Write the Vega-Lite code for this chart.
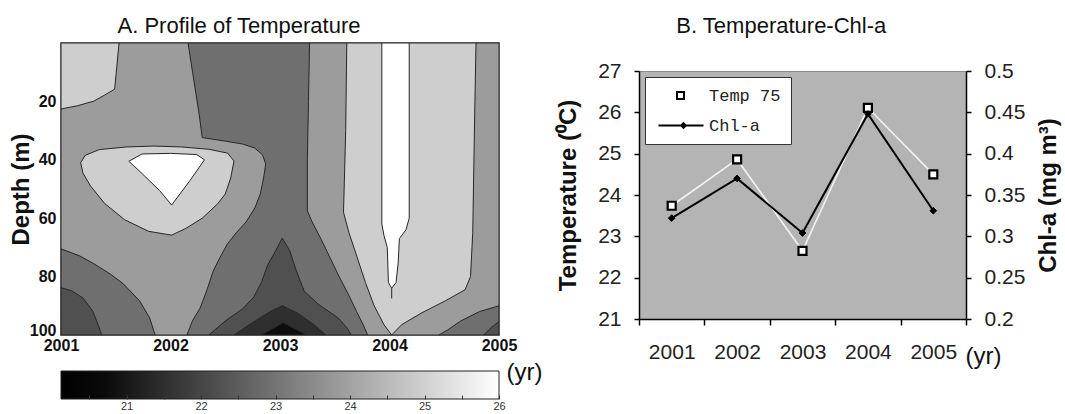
{
  "$schema": "https://vega.github.io/schema/vega-lite/v6.json",
  "background": "white",
  "padding": {"left": 8, "top": 14, "right": 5, "bottom": 0},
  "config": {"font": "Liberation Sans", "view": {"stroke": null}, "title": {"color": "#111", "fontWeight": "normal", "fontSize": 22}},
  "resolve": {"scale": {"shape": "independent"}, "legend": {"shape": "independent"}},
  "datasets": {
    "contours": [
      {"p":"P0","t":23,"i":0,"yr":2001,"d":0},{"p":"P0","t":23,"i":1,"yr":2005,"d":0},{"p":"P0","t":23,"i":2,"yr":2005,"d":100},{"p":"P0","t":23,"i":3,"yr":2001,"d":100},{"p":"P0","t":23,"i":4,"yr":2001,"d":0},

      {"p":"P1","t":24,"i":0,"yr":2001,"d":0},{"p":"P1","t":24,"i":1,"yr":2002.16,"d":0},{"p":"P1","t":24,"i":2,"yr":2002.21,"d":12},{"p":"P1","t":24,"i":3,"yr":2002.26,"d":24},{"p":"P1","t":24,"i":4,"yr":2002.29,"d":32.4},{"p":"P1","t":24,"i":5,"yr":2002.5,"d":33.6},{"p":"P1","t":24,"i":6,"yr":2002.66,"d":34.6},{"p":"P1","t":24,"i":7,"yr":2002.77,"d":36},{"p":"P1","t":24,"i":8,"yr":2002.84,"d":38.3},{"p":"P1","t":24,"i":9,"yr":2002.87,"d":41.4},{"p":"P1","t":24,"i":10,"yr":2002.85,"d":46.2},{"p":"P1","t":24,"i":11,"yr":2002.82,"d":51.7},{"p":"P1","t":24,"i":12,"yr":2002.77,"d":56.5},{"p":"P1","t":24,"i":13,"yr":2002.69,"d":61.3},{"p":"P1","t":24,"i":14,"yr":2002.6,"d":65},{"p":"P1","t":24,"i":15,"yr":2002.52,"d":68.8},{"p":"P1","t":24,"i":16,"yr":2002.45,"d":73.6},{"p":"P1","t":24,"i":17,"yr":2002.39,"d":78.1},{"p":"P1","t":24,"i":18,"yr":2002.33,"d":84.9},{"p":"P1","t":24,"i":19,"yr":2002.27,"d":90.8},{"p":"P1","t":24,"i":20,"yr":2002.2,"d":95.2},{"p":"P1","t":24,"i":21,"yr":2002.15,"d":100},{"p":"P1","t":24,"i":22,"yr":2001.86,"d":100},{"p":"P1","t":24,"i":23,"yr":2001.81,"d":94.2},{"p":"P1","t":24,"i":24,"yr":2001.72,"d":88.4},{"p":"P1","t":24,"i":25,"yr":2001.57,"d":82.5},{"p":"P1","t":24,"i":26,"yr":2001.45,"d":79.1},{"p":"P1","t":24,"i":27,"yr":2001.3,"d":75.6},{"p":"P1","t":24,"i":28,"yr":2001.17,"d":72.9},{"p":"P1","t":24,"i":29,"yr":2001,"d":70.5},{"p":"P1","t":24,"i":30,"yr":2001,"d":0},

      {"p":"P2","t":24,"i":0,"yr":2003.27,"d":0},{"p":"P2","t":24,"i":1,"yr":2003.26,"d":20},{"p":"P2","t":24,"i":2,"yr":2003.25,"d":40},{"p":"P2","t":24,"i":3,"yr":2003.25,"d":57.5},{"p":"P2","t":24,"i":4,"yr":2003.29,"d":61},{"p":"P2","t":24,"i":5,"yr":2003.37,"d":66.8},{"p":"P2","t":24,"i":6,"yr":2003.45,"d":73},{"p":"P2","t":24,"i":7,"yr":2003.54,"d":80},{"p":"P2","t":24,"i":8,"yr":2003.63,"d":86.5},{"p":"P2","t":24,"i":9,"yr":2003.7,"d":92},{"p":"P2","t":24,"i":10,"yr":2003.76,"d":96.5},{"p":"P2","t":24,"i":11,"yr":2003.8,"d":100},{"p":"P2","t":24,"i":12,"yr":2004.45,"d":100},{"p":"P2","t":24,"i":13,"yr":2004.53,"d":98.3},{"p":"P2","t":24,"i":14,"yr":2004.65,"d":95.2},{"p":"P2","t":24,"i":15,"yr":2004.82,"d":92},{"p":"P2","t":24,"i":16,"yr":2005,"d":90},{"p":"P2","t":24,"i":17,"yr":2005,"d":0},{"p":"P2","t":24,"i":18,"yr":2003.27,"d":0},

      {"p":"P3","t":25,"i":0,"yr":2001,"d":0},{"p":"P3","t":25,"i":1,"yr":2001.53,"d":0},{"p":"P3","t":25,"i":2,"yr":2001.51,"d":8},{"p":"P3","t":25,"i":3,"yr":2001.49,"d":15.8},{"p":"P3","t":25,"i":4,"yr":2001.4,"d":17.8},{"p":"P3","t":25,"i":5,"yr":2001.3,"d":19.9},{"p":"P3","t":25,"i":6,"yr":2001.15,"d":21.5},{"p":"P3","t":25,"i":7,"yr":2001,"d":22.6},{"p":"P3","t":25,"i":8,"yr":2001,"d":0},

      {"p":"P4","t":25,"i":0,"yr":2001.18,"d":41},{"p":"P4","t":25,"i":1,"yr":2001.22,"d":38.5},{"p":"P4","t":25,"i":2,"yr":2001.35,"d":36.5},{"p":"P4","t":25,"i":3,"yr":2001.6,"d":35.6},{"p":"P4","t":25,"i":4,"yr":2001.85,"d":35.3},{"p":"P4","t":25,"i":5,"yr":2002.1,"d":35.6},{"p":"P4","t":25,"i":6,"yr":2002.35,"d":36.4},{"p":"P4","t":25,"i":7,"yr":2002.52,"d":37.7},{"p":"P4","t":25,"i":8,"yr":2002.58,"d":40.4},{"p":"P4","t":25,"i":9,"yr":2002.55,"d":46.2},{"p":"P4","t":25,"i":10,"yr":2002.5,"d":51.7},{"p":"P4","t":25,"i":11,"yr":2002.43,"d":55.1},{"p":"P4","t":25,"i":12,"yr":2002.29,"d":60},{"p":"P4","t":25,"i":13,"yr":2002.14,"d":63.5},{"p":"P4","t":25,"i":14,"yr":2002.01,"d":65.8},{"p":"P4","t":25,"i":15,"yr":2001.8,"d":64.5},{"p":"P4","t":25,"i":16,"yr":2001.58,"d":60.5},{"p":"P4","t":25,"i":17,"yr":2001.4,"d":55},{"p":"P4","t":25,"i":18,"yr":2001.27,"d":49},{"p":"P4","t":25,"i":19,"yr":2001.2,"d":44.5},{"p":"P4","t":25,"i":20,"yr":2001.18,"d":41},

      {"p":"P5","t":25,"i":0,"yr":2003.61,"d":0},{"p":"P5","t":25,"i":1,"yr":2003.6,"d":30},{"p":"P5","t":25,"i":2,"yr":2003.58,"d":58},{"p":"P5","t":25,"i":3,"yr":2003.63,"d":65},{"p":"P5","t":25,"i":4,"yr":2003.71,"d":74},{"p":"P5","t":25,"i":5,"yr":2003.78,"d":82},{"p":"P5","t":25,"i":6,"yr":2003.86,"d":90},{"p":"P5","t":25,"i":7,"yr":2003.95,"d":96.5},{"p":"P5","t":25,"i":8,"yr":2004.02,"d":100},{"p":"P5","t":25,"i":9,"yr":2004.11,"d":96.5},{"p":"P5","t":25,"i":10,"yr":2004.29,"d":92.5},{"p":"P5","t":25,"i":11,"yr":2004.51,"d":88.3},{"p":"P5","t":25,"i":12,"yr":2004.69,"d":84.5},{"p":"P5","t":25,"i":13,"yr":2004.74,"d":80},{"p":"P5","t":25,"i":14,"yr":2004.76,"d":65},{"p":"P5","t":25,"i":15,"yr":2004.78,"d":20},{"p":"P5","t":25,"i":16,"yr":2004.79,"d":0},{"p":"P5","t":25,"i":17,"yr":2003.61,"d":0},

      {"p":"P6","t":26,"i":0,"yr":2001.62,"d":40.5},{"p":"P6","t":26,"i":1,"yr":2001.74,"d":38},{"p":"P6","t":26,"i":2,"yr":2002,"d":37.8},{"p":"P6","t":26,"i":3,"yr":2002.24,"d":38.2},{"p":"P6","t":26,"i":4,"yr":2002.31,"d":40},{"p":"P6","t":26,"i":5,"yr":2002.18,"d":47},{"p":"P6","t":26,"i":6,"yr":2002.01,"d":55.5},{"p":"P6","t":26,"i":7,"yr":2001.9,"d":50.5},{"p":"P6","t":26,"i":8,"yr":2001.72,"d":44},{"p":"P6","t":26,"i":9,"yr":2001.62,"d":40.5},

      {"p":"P7","t":26,"i":0,"yr":2003.93,"d":0},{"p":"P7","t":26,"i":1,"yr":2004.18,"d":0},{"p":"P7","t":26,"i":2,"yr":2004.18,"d":60},{"p":"P7","t":26,"i":3,"yr":2004.15,"d":64},{"p":"P7","t":26,"i":4,"yr":2004.09,"d":67},{"p":"P7","t":26,"i":5,"yr":2004.08,"d":75},{"p":"P7","t":26,"i":6,"yr":2004.06,"d":82},{"p":"P7","t":26,"i":7,"yr":2004.02,"d":84},{"p":"P7","t":26,"i":8,"yr":2003.99,"d":82},{"p":"P7","t":26,"i":9,"yr":2003.98,"d":70},{"p":"P7","t":26,"i":10,"yr":2003.95,"d":66},{"p":"P7","t":26,"i":11,"yr":2003.93,"d":62},{"p":"P7","t":26,"i":12,"yr":2003.93,"d":0},
      {"p":"P8","t":26,"i":0,"yr":2004.02,"d":84},{"p":"P8","t":26,"i":1,"yr":2004.02,"d":87.5},

      {"p":"P9","t":22,"i":0,"yr":2001,"d":83.8},{"p":"P9","t":22,"i":1,"yr":2001.1,"d":84.9},{"p":"P9","t":22,"i":2,"yr":2001.2,"d":87.3},{"p":"P9","t":22,"i":3,"yr":2001.29,"d":91.8},{"p":"P9","t":22,"i":4,"yr":2001.35,"d":97.6},{"p":"P9","t":22,"i":5,"yr":2001.37,"d":100},{"p":"P9","t":22,"i":6,"yr":2001,"d":100},{"p":"P9","t":22,"i":7,"yr":2001,"d":83.8},

      {"p":"P10","t":22,"i":0,"yr":2003.02,"d":66.8},{"p":"P10","t":22,"i":1,"yr":2003.09,"d":71.2},{"p":"P10","t":22,"i":2,"yr":2003.15,"d":78.1},{"p":"P10","t":22,"i":3,"yr":2003.22,"d":84.9},{"p":"P10","t":22,"i":4,"yr":2003.35,"d":89.5},{"p":"P10","t":22,"i":5,"yr":2003.53,"d":94.1},{"p":"P10","t":22,"i":6,"yr":2003.61,"d":97.5},{"p":"P10","t":22,"i":7,"yr":2003.65,"d":100},{"p":"P10","t":22,"i":8,"yr":2002.35,"d":100},{"p":"P10","t":22,"i":9,"yr":2002.5,"d":95.2},{"p":"P10","t":22,"i":10,"yr":2002.66,"d":91},{"p":"P10","t":22,"i":11,"yr":2002.76,"d":87},{"p":"P10","t":22,"i":12,"yr":2002.83,"d":82},{"p":"P10","t":22,"i":13,"yr":2002.89,"d":75.8},{"p":"P10","t":22,"i":14,"yr":2002.96,"d":71.2},{"p":"P10","t":22,"i":15,"yr":2003.02,"d":66.8},

      {"p":"P11","t":22,"i":0,"yr":2004.86,"d":100},{"p":"P11","t":22,"i":1,"yr":2004.93,"d":97.4},{"p":"P11","t":22,"i":2,"yr":2005,"d":95.4},{"p":"P11","t":22,"i":3,"yr":2005,"d":100},{"p":"P11","t":22,"i":4,"yr":2004.86,"d":100},

      {"p":"P12","t":21,"i":0,"yr":2002.58,"d":100},{"p":"P12","t":21,"i":1,"yr":2002.74,"d":96},{"p":"P12","t":21,"i":2,"yr":2002.91,"d":92},{"p":"P12","t":21,"i":3,"yr":2003.02,"d":90},{"p":"P12","t":21,"i":4,"yr":2003.16,"d":92.5},{"p":"P12","t":21,"i":5,"yr":2003.31,"d":96.5},{"p":"P12","t":21,"i":6,"yr":2003.42,"d":100},{"p":"P12","t":21,"i":7,"yr":2002.58,"d":100},

      {"p":"P13","t":20,"i":0,"yr":2002.83,"d":100},{"p":"P13","t":20,"i":1,"yr":2003.03,"d":95.8},{"p":"P13","t":20,"i":2,"yr":2003.24,"d":100},{"p":"P13","t":20,"i":3,"yr":2002.83,"d":100}
    ],
    "bio": [
      {"year": 2001, "temp": 23.74, "chl": 0.322},
      {"year": 2002, "temp": 24.86, "chl": 0.370},
      {"year": 2003, "temp": 22.65, "chl": 0.304},
      {"year": 2004, "temp": 26.11, "chl": 0.448},
      {"year": 2005, "temp": 24.50, "chl": 0.331}
    ]
  },
  "spacing": 14,
  "hconcat": [
    {
      "spacing": 6,
      "vconcat": [
        {
          "title": {"text": "A. Profile of Temperature", "frame": "group", "anchor": "middle", "dx": -41, "offset": 5},
          "width": 438,
          "height": 292,
          "data": {"name": "contours"},
          "view": {"stroke": "#1a1a1a", "strokeWidth": 1.5},
          "encoding": {
            "x": {"field": "yr", "type": "quantitative", "scale": {"domain": [2001, 2005], "nice": false, "zero": false},
                  "axis": {"values": [2001, 2002, 2003, 2004, 2005], "format": "d", "ticks": false, "domain": false, "grid": false, "labelFontWeight": "bold", "labelFontSize": 16, "labelPadding": 2, "labelColor": "#111", "labelFlush": false, "title": null}},
            "y": {"field": "d", "type": "quantitative", "scale": {"domain": [0, 100], "reverse": true, "nice": false, "zero": false},
                  "axis": {"values": [20, 40, 60, 80, 100], "ticks": false, "domain": false, "grid": false, "labelFontWeight": "bold", "labelFontSize": 16, "labelPadding": 5, "labelColor": "#111", "labelFlush": true, "labelFlushOffset": 3, "title": "Depth (m)", "titleFontSize": 24, "titleFontWeight": "bold", "titleColor": "#111", "titlePadding": -4}},
            "detail": {"field": "p"},
            "order": {"field": "i", "type": "quantitative"},
            "fill": {"field": "t", "type": "ordinal", "scale": {"domain": [20, 21, 22, 23, 24, 25, 26], "range": ["#0d0d0d", "#2f2f2f", "#505050", "#6f6f6f", "#9c9c9c", "#cecece", "#ffffff"]}, "legend": null}
          },
          "layer": [
            {"transform": [{"filter": "datum.t == 23"}], "mark": {"type": "line", "stroke": "#262626", "strokeWidth": 1, "clip": true}},
            {"transform": [{"filter": "datum.t == 24"}], "mark": {"type": "line", "stroke": "#262626", "strokeWidth": 1, "clip": true}},
            {"transform": [{"filter": "datum.t == 25"}], "mark": {"type": "line", "stroke": "#262626", "strokeWidth": 1, "clip": true}},
            {"transform": [{"filter": "datum.t == 26"}], "mark": {"type": "line", "stroke": "#262626", "strokeWidth": 1, "clip": true}},
            {"transform": [{"filter": "datum.t == 22"}], "mark": {"type": "line", "stroke": "#262626", "strokeWidth": 1, "clip": true}},
            {"transform": [{"filter": "datum.t == 21"}], "mark": {"type": "line", "stroke": "#262626", "strokeWidth": 1, "clip": true}},
            {"transform": [{"filter": "datum.t == 20"}], "mark": {"type": "line", "stroke": "#262626", "strokeWidth": 1, "clip": true}}
          ]
        },
        {
          "width": 438,
          "height": 28,
          "data": {"values": [{"tmin": 20.12, "tmax": 26}]},
          "mark": {"type": "rect", "stroke": "#222", "strokeWidth": 1,
                   "fill": {"gradient": "linear", "x1": 0, "y1": 0, "x2": 1, "y2": 0, "stops": [{"offset": 0, "color": "#000000"}, {"offset": 0.1, "color": "#0a0a0a"}, {"offset": 1, "color": "#ffffff"}]}},
          "encoding": {
            "x": {"field": "tmin", "type": "quantitative", "scale": {"domain": [20.12, 26], "nice": false, "zero": false},
                  "axis": {"orient": "bottom", "values": [20.5, 21, 21.5, 22, 22.5, 23, 23.5, 24, 24.5, 25, 25.5, 26], "labelExpr": "datum.value % 1 === 0 ? format(datum.value, 'd') : ''", "tickSize": -4, "tickColor": "#333", "domain": false, "grid": false, "labelFontSize": 11, "labelColor": "#333", "labelPadding": 5, "labelFlush": false, "zindex": 1,
                           "title": "(yr)", "titleFontSize": 24, "titleFontWeight": "normal", "titleColor": "#111", "titleX": 445, "titleY": -20, "titleAlign": "left", "titleBaseline": "alphabetic"}},
            "x2": {"field": "tmax"}
          }
        }
      ]
    },
    {
      "title": {"text": "B. Temperature-Chl-a", "frame": "bounds", "anchor": "middle", "dx": -27, "offset": 5},
      "spacing": 0,
      "bounds": "flush",
      "resolve": {"scale": {"shape": "independent"}, "legend": {"shape": "independent"}},
      "vconcat": [
        {
          "width": 327,
          "height": 28,
          "data": {"values": [{}]},
          "view": {"fill": "white", "stroke": null},
          "mark": {"type": "text", "text": ""}
        },
        {
          "width": 327,
          "height": 248,
          "data": {"name": "bio"},
          "view": {"fill": "#b4b4b4", "stroke": "#8a8a8a", "strokeWidth": 1},
          "encoding": {
            "x": {"field": "year", "type": "ordinal", "scale": {"type": "band", "paddingInner": 0, "paddingOuter": 0},
                  "axis": {"tickBand": "extent", "tickSize": 6, "tickColor": "#000", "tickWidth": 1.5, "domainColor": "#000", "domainWidth": 1.5, "labelAngle": 0, "labelFontSize": 21, "labelPadding": 16, "labelColor": "#222", "zindex": 1,
                           "title": "(yr)", "titleFontSize": 24, "titleFontWeight": "normal", "titleColor": "#111", "titleX": 326, "titleY": 44, "titleAlign": "left", "titleBaseline": "alphabetic"}}
          },
          "layer": [
            {"mark": {"type": "line", "stroke": "#f2f2f2", "strokeWidth": 1.6},
             "encoding": {"y": {"field": "temp", "type": "quantitative", "scale": {"domain": [21, 27], "nice": false, "zero": false},
                      "axis": {"orient": "left", "values": [21, 22, 23, 24, 25, 26, 27], "tickSize": 5, "tickColor": "#000", "tickWidth": 1.5, "domainColor": "#000", "domainWidth": 1.5, "grid": false, "labelFontSize": 21, "labelColor": "#222", "labelPadding": 13, "labelFlush": false, "zindex": 1,
                               "title": "Temperature (⁰C)", "titleFontSize": 24, "titleFontWeight": "bold", "titleColor": "#111", "titlePadding": 17}}}},
            {"mark": {"type": "point", "shape": "square", "filled": true, "fill": "white", "stroke": "black", "strokeWidth": 2.2, "size": 64, "opacity": 1},
             "encoding": {"y": {"field": "temp", "type": "quantitative", "scale": {"domain": [21, 27], "nice": false, "zero": false}, "axis": null}}},
            {"mark": {"type": "line", "stroke": "black", "strokeWidth": 2},
             "encoding": {"y": {"field": "chl", "type": "quantitative", "scale": {"domain": [0.2, 0.5], "nice": false, "zero": false},
                      "axis": {"orient": "right", "values": [0.2, 0.25, 0.3, 0.35, 0.4, 0.45, 0.5], "format": "~g", "tickSize": 5, "tickColor": "#000", "tickWidth": 1.5, "domainColor": "#000", "domainWidth": 1.5, "grid": false, "labelFontSize": 21, "labelColor": "#222", "labelPadding": 13, "labelFlush": false, "zindex": 1,
                               "title": "Chl-a (mg m³)", "titleFontSize": 24, "titleFontWeight": "bold", "titleColor": "#111", "titleAngle": 270, "titleX": 82, "titleY": 124, "titleAlign": "center", "titleBaseline": "middle"}}}},
            {"mark": {"type": "point", "shape": "diamond", "filled": true, "fill": "black", "stroke": "black", "strokeWidth": 1, "size": 45, "opacity": 1},
             "encoding": {"y": {"field": "chl", "type": "quantitative", "scale": {"domain": [0.2, 0.5], "nice": false, "zero": false}, "axis": null}}},
            {"data": {"values": [{"series": "Temp 75"}, {"series": "Chl-a"}]},
             "mark": {"type": "point", "filled": true, "color": "black", "size": 6},
             "encoding": {"x": {"datum": 2001, "type": "ordinal"},
                          "y": {"datum": 26.5, "type": "quantitative", "scale": {"domain": [21, 27], "nice": false, "zero": false}, "axis": null},
                          "shape": {"field": "series", "type": "nominal",
                                    "scale": {"domain": ["Temp 75", "Chl-a"], "range": ["M2.5,-0.9H4.3V0.9H2.5ZM2.9,-0.5V0.5H3.9V-0.5Z", "M-1,-0.2H8V0.2H-1ZM4,-0.75L4.75,0L4,0.75L3.25,0Z"]},
                                    "legend": {"title": null, "orient": "top-left", "offset": 6, "fillColor": "white", "strokeColor": "#333", "padding": 10, "symbolSize": 100, "symbolFillColor": "black", "symbolStrokeWidth": 0, "symbolOpacity": 1, "labelFont": "Liberation Mono", "labelFontSize": 17, "labelColor": "#222", "labelOffset": 37, "rowPadding": 12}}}}
          ],
          "resolve": {"scale": {"y": "independent"}, "axis": {"y": "independent"}}
        }
      ]
    }
  ]
}
